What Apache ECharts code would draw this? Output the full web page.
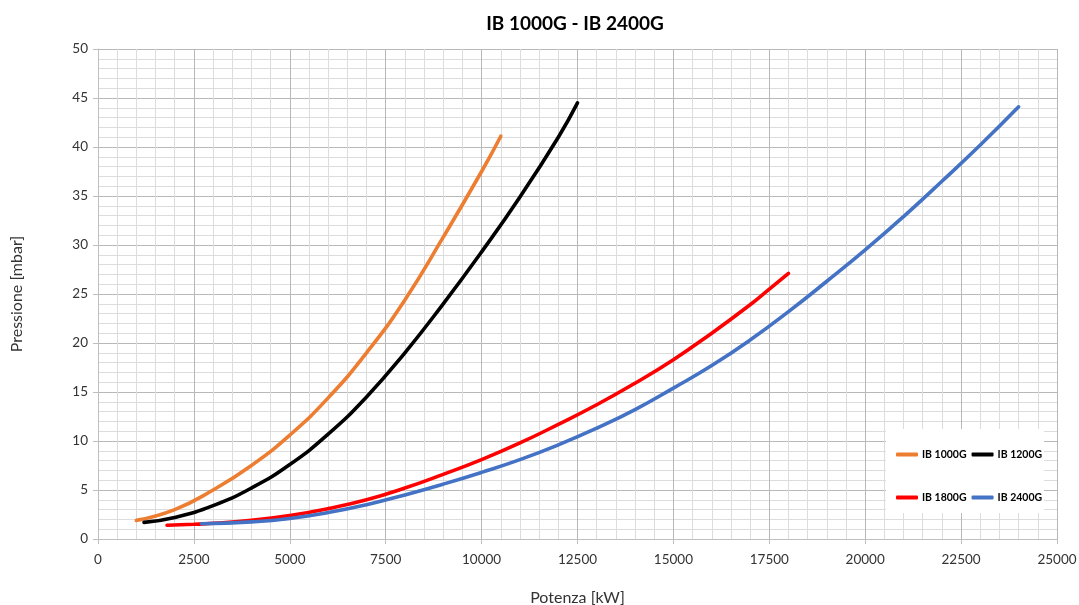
<!DOCTYPE html>
<html>
<head>
<meta charset="utf-8">
<script src="https://cdn.jsdelivr.net/npm/echarts@6/dist/echarts.min.js"></script>
<style>html,body{margin:0;padding:0;background:#fff}#c{width:1079px;height:605px}</style>
</head>
<body>
<div id="c"></div>
<script>
var titleText = 'IB 1000G - IB 2400G';
var xName = 'Potenza [kW]';
var yName = 'Pressione [mbar]';
var seriesNames = ['IB 1000G', 'IB 1200G', 'IB 1800G', 'IB 2400G'];
var seriesColors = ['#ED7D31', '#000000', '#FF0000', '#4472C4'];

var ib1000 = [[1000,1.9],[2000,3.0],[3000,5.0],[4000,7.5],[5000,10.6],[6000,14.4],[7000,19.0],[8000,24.4],[9000,30.8],[10000,37.5],[10500,41.1]];
var ib1200 = [[1200,1.7],[2000,2.2],[3000,3.4],[4000,5.2],[5000,7.6],[6000,10.7],[7000,14.5],[8000,19.0],[9000,24.0],[10000,29.3],[11000,34.9],[12000,41.0],[12500,44.5]];
var ib1800 = [[1800,1.4],[2500,1.5],[3000,1.6],[4000,1.9],[5000,2.4],[6000,3.1],[7000,4.0],[8000,5.2],[9000,6.6],[10000,8.1],[11000,9.8],[12000,11.7],[13000,13.7],[14000,15.9],[15000,18.3],[16000,21.0],[17000,23.9],[17500,25.5],[18000,27.1]];
var ib2400 = [[2700,1.55],[4000,1.75],[5000,2.1],[6000,2.7],[7000,3.5],[8000,4.5],[9000,5.6],[10000,6.8],[11000,8.1],[12000,9.6],[13000,11.3],[14000,13.2],[15000,15.4],[16000,17.7],[17000,20.3],[18000,23.2],[19000,26.3],[20000,29.5],[21000,32.9],[22000,36.5],[23000,40.2],[24000,44.1]];
var allData = [ib1000, ib1200, ib1800, ib2400];

var FONT = 'Lato';
var chart = echarts.init(document.getElementById('c'), null, {renderer: 'canvas'});

var series = seriesNames.map(function (n, i) {
  return {
    name: n, type: 'line', data: allData[i], smooth: true, showSymbol: false,
    lineStyle: {color: seriesColors[i], width: 3.6, cap: 'round'},
    itemStyle: {color: seriesColors[i]}, z: 3
  };
});

function legendItem(names, top) {
  return {
    data: names, top: top, left: 891, orient: 'horizontal', itemGap: 5,
    icon: 'roundRect', itemWidth: 22, itemHeight: 4, z: 60,
    textStyle: {fontFamily: FONT, fontWeight: 'bold', fontSize: 10.5, color: '#000', padding: [0, 0, 0, -1]}
  };
}

function plainNum(v) { return String(v); }

chart.setOption({
  animation: false,
  backgroundColor: '#fff',
  title: {
    text: titleText, left: 570, top: 9, textAlign: 'center',
    textStyle: {fontFamily: FONT, fontWeight: 'bold', fontSize: 19, color: '#000'}
  },
  grid: {left: 98, right: 22, top: 49, bottom: 66, containLabel: false, outerBoundsMode: 'none'},
  legend: [legendItem(seriesNames.slice(0, 2), 444), legendItem(seriesNames.slice(2, 4), 487)],
  graphic: [{type: 'rect', shape: {x: 886, y: 429, width: 158, height: 84}, style: {fill: '#fff'}, z: 50}],
  xAxis: {
    type: 'value', min: 0, max: 25000, interval: 2500,
    name: xName, nameLocation: 'middle', nameGap: 51,
    nameTextStyle: {fontFamily: FONT, fontSize: 16, color: '#333'},
    axisLine: {show: true, lineStyle: {color: '#bfbfbf', width: 1}},
    axisTick: {show: true, length: 5, lineStyle: {color: '#bfbfbf'}},
    axisLabel: {fontFamily: FONT, fontSize: 13.5, color: '#333', margin: 14, formatter: plainNum},
    splitLine: {show: true, lineStyle: {color: '#b8b8b8', width: 1}},
    minorTick: {show: false, splitNumber: 5},
    minorSplitLine: {show: true, lineStyle: {color: '#dcdcdc', width: 1}}
  },
  yAxis: {
    type: 'value', min: 0, max: 50, interval: 5,
    name: yName, nameLocation: 'middle', nameGap: 73,
    nameTextStyle: {fontFamily: FONT, fontSize: 16, color: '#333'},
    axisLine: {show: true, lineStyle: {color: '#bfbfbf', width: 1}},
    axisTick: {show: true, length: 5, lineStyle: {color: '#bfbfbf'}},
    axisLabel: {fontFamily: FONT, fontSize: 13.5, color: '#333', margin: 10, formatter: plainNum},
    splitLine: {show: true, lineStyle: {color: '#b8b8b8', width: 1}},
    minorTick: {show: false, splitNumber: 5},
    minorSplitLine: {show: true, lineStyle: {color: '#dcdcdc', width: 1}}
  },
  series: series
});
</script>
</body>
</html>
